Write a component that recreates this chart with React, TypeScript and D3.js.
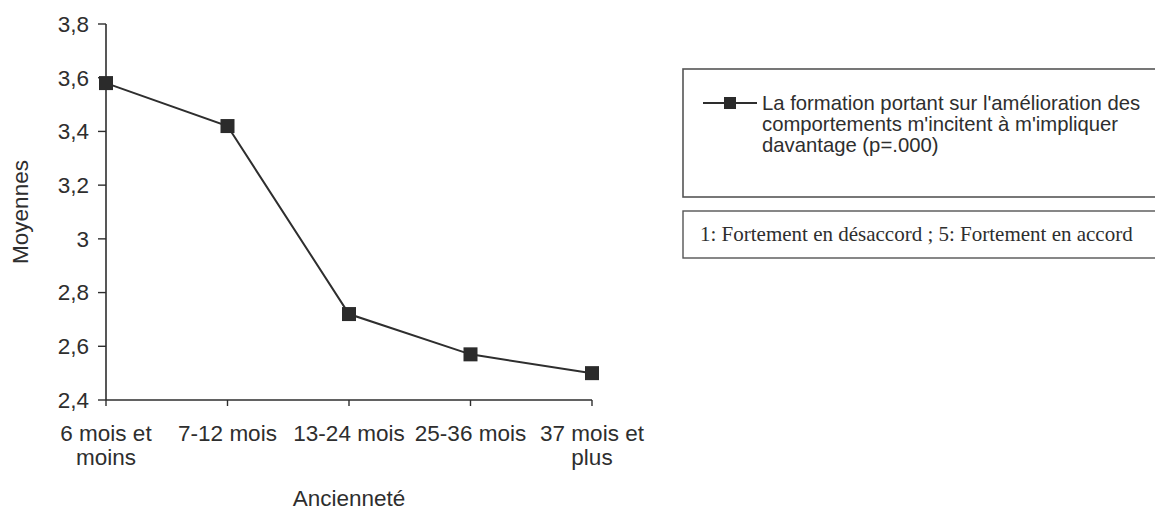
import React from "react";
import * as d3 from "d3";

const categories: string[][] = [
  ["6 mois et", "moins"],
  ["7-12 mois"],
  ["13-24 mois"],
  ["25-36 mois"],
  ["37 mois et", "plus"],
];
const values: number[] = [3.58, 3.42, 2.72, 2.57, 2.5];
const yTicks: number[] = [2.4, 2.6, 2.8, 3.0, 3.2, 3.4, 3.6, 3.8];
const yTickLabels: string[] = ["2,4", "2,6", "2,8", "3", "3,2", "3,4", "3,6", "3,8"];
const legendLines: string[] = [
  "La formation portant sur l'amélioration des",
  "comportements m'incitent à m'impliquer",
  "davantage (p=.000)",
];
const noteText = "1: Fortement en désaccord ; 5: Fortement en accord";
const xTitle = "Ancienneté";
const yTitle = "Moyennes";

const W = 1155;
const H = 510;
const ink = "#2e2e2e";
const sans = "Liberation Sans, Arial, sans-serif";
const serif = "Liberation Serif, Times New Roman, serif";

export default function App() {
  const keys = categories.map((c) => c.join(" "));
  const x = d3.scalePoint<string>().domain(keys).range([106, 592]);
  const y = d3.scaleLinear().domain([2.4, 3.8]).range([400, 24]);
  const line = d3
    .line<number>()
    .x((_, i) => x(keys[i]) as number)
    .y((d) => y(d));
  const ms = 14;
  const fs = 22.5;

  return (
    <svg
      width={W}
      height={H}
      style={{ position: "absolute", left: 0, top: 0, background: "#fff" }}
    >
      <rect x={0} y={0} width={W} height={H} fill="#fff" />
      {/* y axis */}
      <line x1={106} x2={106} y1={y(3.8)} y2={y(2.4)} stroke={ink} strokeWidth={1.6} />
      {yTicks.map((t, i) => (
        <g key={t}>
          <line x1={98} x2={106} y1={y(t)} y2={y(t)} stroke={ink} strokeWidth={1.4} />
          <text
            x={89}
            y={y(t)}
            dy="0.35em"
            textAnchor="end"
            fontFamily={sans}
            fontSize={fs}
            fill={ink}
          >
            {yTickLabels[i]}
          </text>
        </g>
      ))}
      {/* x axis */}
      <line x1={106} x2={x(keys[keys.length - 1])} y1={400} y2={400} stroke={ink} strokeWidth={1.6} />
      {keys.map((k, i) => (
        <g key={k}>
          <line x1={x(k)} x2={x(k)} y1={400} y2={406} stroke={ink} strokeWidth={1.4} />
          <text
            x={x(k)}
            y={441}
            textAnchor="middle"
            fontFamily={sans}
            fontSize={fs}
            fill={ink}
          >
            {categories[i].map((l, j) => (
              <tspan key={j} x={x(k)} dy={j === 0 ? 0 : 24}>
                {l}
              </tspan>
            ))}
          </text>
        </g>
      ))}
      <text
        x={(106 + 592) / 2}
        y={506}
        textAnchor="middle"
        fontFamily={sans}
        fontSize={fs}
        fill={ink}
      >
        {xTitle}
      </text>
      <text
        transform={`translate(28, 212) rotate(-90)`}
        textAnchor="middle"
        fontFamily={sans}
        fontSize={fs}
        fill={ink}
      >
        {yTitle}
      </text>
      {/* series */}
      <path d={line(values) || ""} fill="none" stroke={ink} strokeWidth={2} />
      {values.map((v, i) => (
        <rect
          key={i}
          x={(x(keys[i]) as number) - ms / 2}
          y={y(v) - ms / 2}
          width={ms}
          height={ms}
          fill="#2b2b2b"
        />
      ))}
      {/* legend box */}
      <rect x={683} y={69} width={490} height={128} fill="none" stroke="#555" strokeWidth={1.6} />
      <line x1={703} x2={757} y1={103} y2={103} stroke={ink} strokeWidth={2} />
      <rect x={730 - 6} y={103 - 6} width={12} height={12} fill="#2b2b2b" />
      {legendLines.map((l, i) => (
        <text key={i} x={762} y={110 + i * 21} fontFamily={sans} fontSize={20.3} fill={ink}>
          {l}
        </text>
      ))}
      <rect x={683} y={211} width={490} height={47} fill="none" stroke="#555" strokeWidth={1.4} />
      <text x={700} y={241} fontFamily={serif} fontSize={21} fill={ink}>
        {noteText}
      </text>
    </svg>
  );
}
